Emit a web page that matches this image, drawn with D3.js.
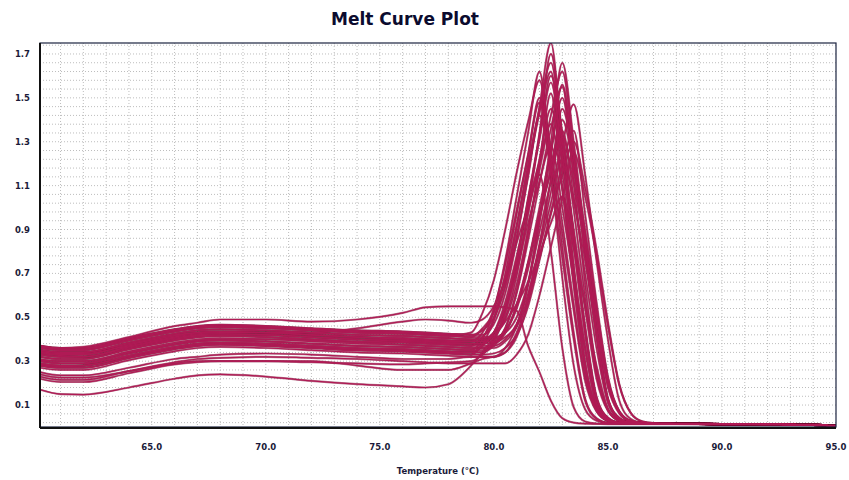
<!doctype html>
<html>
<head>
<script src="https://d3js.org/d3.v7.min.js"></script>
<style>
  body, html { margin: 0; padding: 0; overflow: hidden; background: #fff; }
  text { font-family: "DejaVu Sans", Verdana, sans-serif; }
</style>
</head>
<body>
<script>
// temperature samples (°C) shared by every well
const temps = [60.1, 61, 62, 64, 66, 67, 68, 70, 72, 74, 76, 77, 78, 79,
  79.5, 80, 80.5, 81, 81.5, 82, 82.5, 83, 83.5, 84, 84.5, 85, 85.5, 86, 86.5, 87,
  88, 90, 92, 94, 95];

// -dF/dT per well
const w01 = [0.37,0.36,0.36,0.405,0.445,0.46,0.465,0.46,0.45,0.44,0.435,0.43,0.425,0.42, 0.42,0.47,0.61,0.85,1.15,1.46,1.75,1.26,0.74,0.30,0.09,0.03,0.021,0.018,0.017,0.016, 0.015,0.013,0.012,0.01,0.005];
const w02 = [0.35,0.34,0.34,0.385,0.425,0.44,0.445,0.44,0.43,0.42,0.415,0.41,0.405,0.40, 0.40,0.43,0.50,0.69,0.99,1.34,1.70,1.33,0.88,0.46,0.14,0.043,0.02,0.018,0.017,0.016, 0.015,0.013,0.012,0.01,0.005];
const w03 = [0.32,0.31,0.31,0.355,0.395,0.41,0.415,0.41,0.40,0.39,0.385,0.38,0.375,0.37, 0.41,0.49,0.65,0.91,1.20,1.45,1.66,1.30,0.86,0.45,0.13,0.042,0.02,0.018,0.016,0.015, 0.015,0.013,0.012,0.01,0.005];
const w04 = [0.30,0.29,0.29,0.335,0.375,0.39,0.395,0.39,0.38,0.37,0.365,0.36,0.355,0.35, 0.35,0.40,0.53,0.75,1.04,1.33,1.60,1.34,0.99,0.59,0.24,0.08,0.032,0.02,0.017,0.016, 0.015,0.013,0.012,0.01,0.005];
const w05 = [0.36,0.35,0.35,0.395,0.435,0.45,0.455,0.45,0.44,0.43,0.425,0.42,0.415,0.43, 0.52,0.67,0.90,1.16,1.39,1.58,1.23,0.82,0.43,0.13,0.04,0.019,0.017,0.016,0.016,0.015, 0.015,0.013,0.012,0.01,0.005];
const w06 = [0.28,0.27,0.27,0.315,0.355,0.37,0.375,0.37,0.36,0.35,0.345,0.34,0.335,0.33, 0.38,0.49,0.70,0.97,1.24,1.50,1.26,0.93,0.56,0.23,0.075,0.03,0.02,0.017,0.016,0.015, 0.015,0.013,0.012,0.01,0.005];
const w07 = [0.33,0.32,0.32,0.365,0.405,0.42,0.425,0.42,0.41,0.40,0.395,0.39,0.385,0.38, 0.38,0.42,0.49,0.65,0.90,1.17,1.42,1.62,1.26,0.84,0.44,0.13,0.04,0.019,0.017,0.016, 0.015,0.013,0.012,0.01,0.005];
const w08 = [0.29,0.28,0.28,0.325,0.365,0.38,0.385,0.38,0.37,0.36,0.355,0.35,0.345,0.34, 0.34,0.38,0.45,0.61,0.85,1.11,1.36,1.55,1.12,0.65,0.26,0.078,0.028,0.019,0.017,0.016, 0.015,0.013,0.012,0.01,0.005];
const w09 = [0.34,0.33,0.33,0.375,0.415,0.43,0.435,0.43,0.42,0.41,0.405,0.40,0.395,0.39, 0.39,0.39,0.43,0.55,0.75,1.00,1.26,1.50,1.17,0.78,0.41,0.12,0.038,0.018,0.017,0.016, 0.015,0.013,0.012,0.01,0.005];
const w10 = [0.27,0.26,0.26,0.305,0.345,0.36,0.365,0.36,0.35,0.34,0.335,0.33,0.325,0.32, 0.32,0.32,0.34,0.41,0.57,0.83,1.13,1.45,1.22,0.90,0.54,0.22,0.073,0.029,0.02,0.017, 0.015,0.013,0.012,0.01,0.005];
const w11 = [0.32,0.31,0.31,0.355,0.395,0.41,0.415,0.41,0.40,0.39,0.385,0.38,0.375,0.37, 0.37,0.37,0.40,0.47,0.61,0.83,1.07,1.29,1.47,1.15,0.76,0.40,0.12,0.037,0.018,0.016, 0.015,0.013,0.012,0.01,0.005];
const w12 = [0.35,0.34,0.34,0.385,0.425,0.44,0.445,0.44,0.43,0.42,0.415,0.41,0.405,0.40, 0.40,0.40,0.44,0.54,0.72,0.95,1.18,1.40,1.18,0.87,0.52,0.21,0.07,0.028,0.02,0.017, 0.015,0.013,0.012,0.01,0.005];
const w13 = [0.31,0.30,0.30,0.345,0.385,0.40,0.405,0.40,0.39,0.38,0.375,0.37,0.365,0.36, 0.36,0.38,0.45,0.62,0.88,1.20,1.52,1.09,0.64,0.26,0.076,0.027,0.018,0.017,0.016,0.016, 0.015,0.013,0.012,0.01,0.005];
const w14 = [0.37,0.36,0.36,0.405,0.445,0.46,0.465,0.46,0.45,0.44,0.435,0.43,0.425,0.42, 0.44,0.50,0.64,0.87,1.14,1.42,1.19,0.88,0.53,0.21,0.071,0.028,0.02,0.017,0.016,0.015, 0.015,0.013,0.012,0.01,0.005];
const w15 = [0.28,0.27,0.27,0.315,0.355,0.37,0.375,0.37,0.36,0.35,0.345,0.34,0.335,0.33, 0.33,0.335,0.36,0.42,0.55,0.76,0.98,1.19,1.35,0.97,0.57,0.23,0.068,0.024,0.016,0.015, 0.015,0.013,0.012,0.01,0.005];
const w16 = [0.34,0.33,0.33,0.375,0.415,0.43,0.435,0.43,0.42,0.41,0.405,0.40,0.395,0.39, 0.39,0.43,0.54,0.73,0.97,1.22,1.45,1.22,0.90,0.54,0.22,0.073,0.029,0.02,0.017,0.016, 0.015,0.013,0.012,0.01,0.005];
const w17 = [0.25,0.235,0.235,0.27,0.31,0.32,0.33,0.335,0.33,0.32,0.31,0.31,0.31,0.32, 0.32,0.32,0.36,0.46,0.65,0.89,1.12,1.35,1.05,0.70,0.36,0.11,0.034,0.016,0.016,0.015, 0.015,0.013,0.012,0.01,0.005];
const w18 = [0.22,0.205,0.205,0.245,0.285,0.295,0.30,0.30,0.295,0.29,0.285,0.29,0.295,0.30, 0.33,0.39,0.52,0.71,0.93,1.12,1.28,1.00,0.67,0.35,0.10,0.032,0.016,0.015,0.015,0.015, 0.015,0.013,0.012,0.01,0.005];
const w19 = [0.24,0.225,0.225,0.255,0.29,0.30,0.30,0.30,0.30,0.28,0.26,0.26,0.26,0.29, 0.31,0.32,0.34,0.43,0.59,0.81,1.02,1.22,1.03,0.76,0.45,0.18,0.061,0.024,0.018,0.016, 0.015,0.013,0.012,0.01,0.005];
const w20 = [0.17,0.15,0.148,0.18,0.22,0.235,0.24,0.23,0.21,0.195,0.185,0.18,0.195,0.28, 0.34,0.41,0.48,0.56,0.66,0.79,0.93,1.05,0.82,0.55,0.28,0.084,0.026,0.015,0.015,0.015, 0.015,0.013,0.012,0.01,0.005];
const w21 = [0.37,0.36,0.365,0.41,0.46,0.475,0.49,0.49,0.48,0.49,0.52,0.545,0.55,0.55, 0.55,0.55,0.545,0.53,0.37,0.25,0.12,0.04,0.02,0.015,0.014,0.013,0.013,0.013,0.013,0.013, 0.013,0.012,0.011,0.01,0.005];
const w22 = [0.35,0.34,0.34,0.38,0.42,0.43,0.435,0.43,0.43,0.45,0.48,0.49,0.485,0.475, 0.49,0.55,0.67,0.84,1.00,1.15,0.80,0.36,0.09,0.025,0.016,0.015,0.015,0.014,0.014,0.014, 0.014,0.013,0.012,0.01,0.005];
const w23 = [0.30,0.29,0.29,0.335,0.375,0.39,0.395,0.39,0.38,0.37,0.365,0.36,0.355,0.35, 0.40,0.53,0.76,1.05,1.34,1.62,1.17,0.68,0.28,0.081,0.029,0.019,0.017,0.016,0.016,0.015, 0.015,0.013,0.012,0.01,0.005];
const w24 = [0.33,0.32,0.32,0.365,0.405,0.42,0.425,0.42,0.41,0.40,0.395,0.39,0.385,0.38, 0.38,0.385,0.41,0.46,0.58,0.77,0.97,1.15,1.30,1.09,0.81,0.48,0.195,0.065,0.026,0.018, 0.016,0.013,0.012,0.01,0.005];
const w25 = [0.29,0.28,0.28,0.325,0.365,0.38,0.385,0.38,0.37,0.36,0.355,0.35,0.345,0.34, 0.37,0.43,0.57,0.78,1.01,1.21,1.38,1.08,0.72,0.37,0.11,0.035,0.017,0.016,0.016,0.015, 0.015,0.013,0.012,0.01,0.005];
const w26 = [0.36,0.35,0.35,0.395,0.435,0.45,0.455,0.45,0.44,0.43,0.425,0.42,0.415,0.41, 0.41,0.41,0.43,0.50,0.66,0.93,1.24,1.56,1.22,0.81,0.42,0.125,0.039,0.019,0.017,0.016, 0.015,0.013,0.012,0.01,0.005];
const w27 = [0.335,0.325,0.32,0.36,0.40,0.415,0.42,0.42,0.41,0.40,0.39,0.385,0.38,0.38, 0.38,0.43,0.55,0.76,1.04,1.31,1.57,1.23,0.82,0.42,0.13,0.039,0.019,0.017,0.016,0.015, 0.015,0.013,0.012,0.01,0.005];
const w28 = [0.305,0.30,0.30,0.34,0.38,0.395,0.40,0.40,0.395,0.385,0.375,0.37,0.365,0.36, 0.36,0.36,0.39,0.46,0.65,0.95,1.30,1.66,1.30,0.86,0.45,0.13,0.042,0.02,0.017,0.016, 0.015,0.013,0.012,0.01,0.005];
const w29 = [0.345,0.335,0.335,0.37,0.41,0.425,0.43,0.43,0.42,0.41,0.40,0.395,0.39,0.39, 0.43,0.54,0.74,0.99,1.24,1.48,1.15,0.77,0.40,0.12,0.037,0.018,0.016,0.016,0.015,0.015, 0.015,0.013,0.012,0.01,0.005];
const w30 = [0.285,0.275,0.28,0.32,0.36,0.375,0.38,0.375,0.365,0.355,0.35,0.345,0.34,0.34, 0.34,0.37,0.43,0.56,0.75,0.97,1.16,1.32,1.11,0.82,0.49,0.20,0.066,0.026,0.018,0.016, 0.015,0.013,0.012,0.01,0.005];
const w31 = [0.365,0.355,0.355,0.40,0.44,0.455,0.46,0.455,0.445,0.435,0.43,0.425,0.42,0.41, 0.45,0.52,0.68,0.92,1.18,1.43,1.62,1.17,0.68,0.28,0.081,0.029,0.019,0.017,0.016,0.015, 0.015,0.013,0.012,0.01,0.005];
const w32 = [0.23,0.215,0.215,0.255,0.295,0.31,0.315,0.32,0.315,0.31,0.30,0.295,0.29,0.29, 0.29,0.29,0.29,0.33,0.42,0.60,0.82,1.04,1.25,1.05,0.78,0.46,0.19,0.063,0.025,0.018, 0.016,0.013,0.012,0.01,0.005];

const wells = [w01, w02, w03, w04, w05, w06, w07, w08, w09, w10, w11, w12, w13,
  w14, w15, w16, w17, w18, w19, w20, w21, w22, w23, w24, w25, w26,
  w27, w28, w29, w30, w31, w32];

const xTicks = [65, 70, 75, 80, 85, 90, 95];
const yTicks = [0.1, 0.3, 0.5, 0.7, 0.9, 1.1, 1.3, 1.5, 1.7];

const width = 849, height = 480;
const margin = {top: 43, right: 13, bottom: 53, left: 40};

const svg = d3.select("body").append("svg")
  .attr("width", width)
  .attr("height", height);

const x = d3.scaleLinear().domain([60.1, 95]).range([margin.left, width - margin.right]);
const y = d3.scaleLinear().domain([0, 1.75]).range([height - margin.bottom, margin.top]);

svg.append("text")
  .attr("x", 405).attr("y", 25)
  .attr("text-anchor", "middle")
  .attr("font-size", 17).attr("font-weight", "bold")
  .attr("fill", "#0b0b2e")
  .text("Melt Curve Plot");

// dotted grid
const grid = svg.append("g")
  .attr("stroke", "#bdbdbd")
  .attr("stroke-width", 1)
  .attr("stroke-dasharray", "1,2");

grid.selectAll("line.v")
  .data(d3.range(61, 95, 1))
  .join("line")
  .attr("class", "v")
  .attr("x1", d => x(d)).attr("x2", d => x(d))
  .attr("y1", y(1.75)).attr("y2", y(0));

grid.selectAll("line.h")
  .data(d3.range(0.02, 1.75, 0.04))
  .join("line")
  .attr("class", "h")
  .attr("x1", x(60.1)).attr("x2", x(95))
  .attr("y1", d => y(d)).attr("y2", d => y(d));

svg.append("clipPath").attr("id", "clip")
  .append("rect")
  .attr("x", x(60.1)).attr("y", y(1.75))
  .attr("width", x(95) - x(60.1)).attr("height", y(0) - y(1.75));

const line = d3.line()
  .x((d, i) => x(temps[i]))
  .y(d => y(d))
  .curve(d3.curveMonotoneX);

const plot = svg.append("g").attr("clip-path", "url(#clip)").attr("fill", "none");

plot.selectAll("path.under")
  .data(wells)
  .join("path")
  .attr("class", "under")
  .attr("d", line)
  .attr("stroke", "#7a0d33")
  .attr("stroke-opacity", 0.55)
  .attr("stroke-width", 2.2);

plot.selectAll("path.over")
  .data(wells)
  .join("path")
  .attr("class", "over")
  .attr("d", line)
  .attr("stroke", "#b01a55")
  .attr("stroke-width", 1.2);

// frame
svg.append("rect")
  .attr("x", x(60.1)).attr("y", y(1.75))
  .attr("width", x(95) - x(60.1)).attr("height", y(0) - y(1.75))
  .attr("fill", "none")
  .attr("stroke", "#1c2340")
  .attr("stroke-width", 1.2);

svg.append("line")
  .attr("x1", x(60.1)).attr("x2", x(60.1))
  .attr("y1", y(1.75)).attr("y2", y(0) + 1)
  .attr("stroke", "#111").attr("stroke-width", 2);

svg.append("line")
  .attr("x1", x(60.1)).attr("x2", x(95))
  .attr("y1", y(0) + 1).attr("y2", y(0) + 1)
  .attr("stroke", "#111").attr("stroke-width", 2);

// tick labels
svg.append("g")
  .selectAll("text")
  .data(xTicks)
  .join("text")
  .attr("x", d => x(d))
  .attr("y", 450)
  .attr("text-anchor", "middle")
  .attr("font-size", 8.5).attr("font-weight", "bold")
  .attr("fill", "#1b1b3a")
  .text(d => d.toFixed(1));

svg.append("g")
  .selectAll("text")
  .data(yTicks)
  .join("text")
  .attr("x", 30)
  .attr("y", d => y(d) + 3)
  .attr("text-anchor", "end")
  .attr("font-size", 8.5).attr("font-weight", "bold")
  .attr("fill", "#1b1b3a")
  .text(d => d.toFixed(1));

svg.append("text")
  .attr("x", 438).attr("y", 474)
  .attr("text-anchor", "middle")
  .attr("font-size", 8.5).attr("font-weight", "bold")
  .attr("fill", "#1b1b3a")
  .text("Temperature (°C)");
</script>
</body>
</html>
